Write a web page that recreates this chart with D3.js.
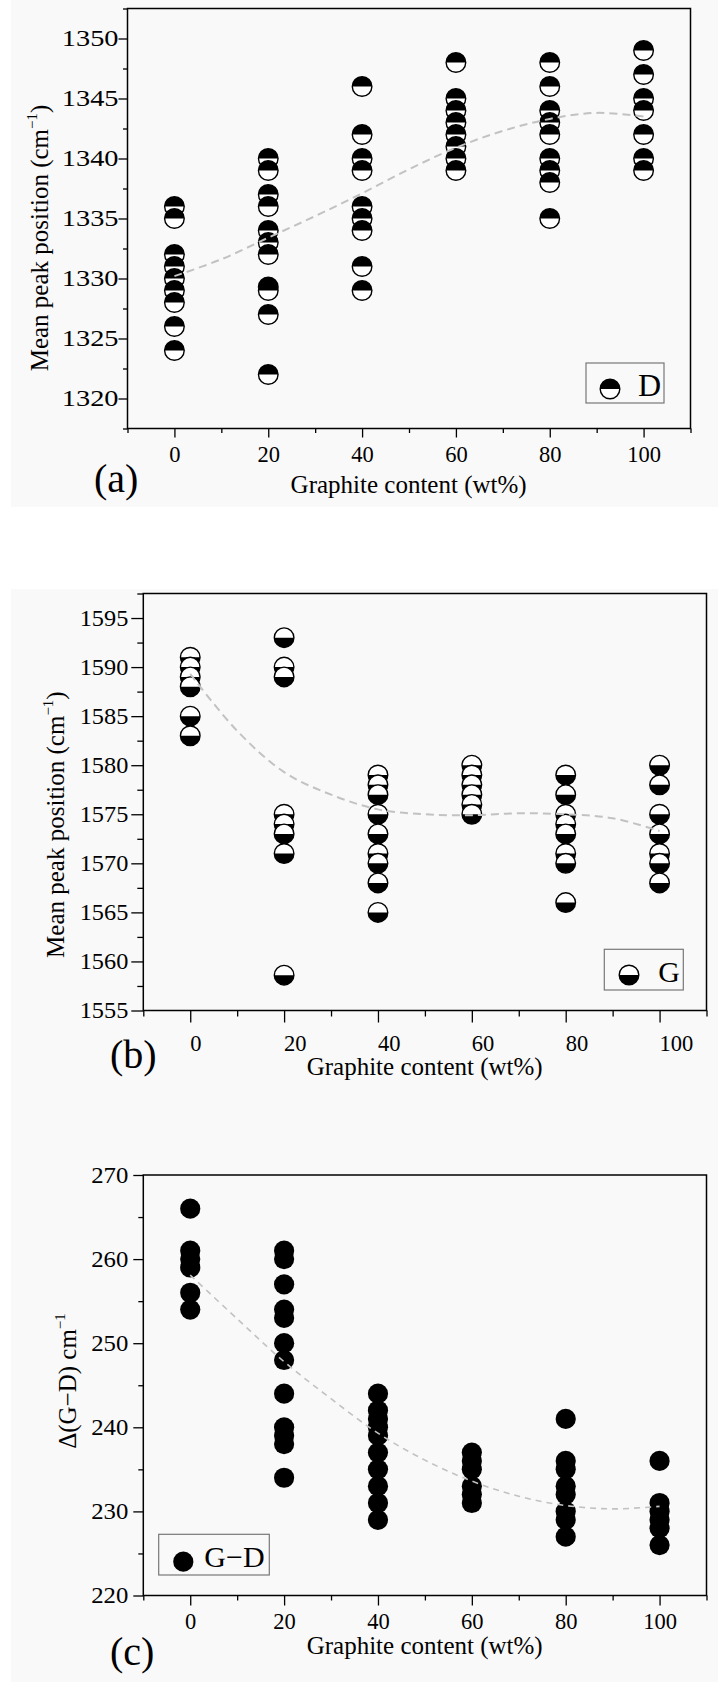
<!DOCTYPE html>
<html><head><meta charset="utf-8">
<script src="https://cdn.jsdelivr.net/npm/d3@7"></script>
<style>
body{margin:0;background:#fff}
svg{display:block}
svg text{font-family:'Liberation Serif','Times New Roman',Times,'DejaVu Serif',serif;fill:#000}
</style>
</head><body>
<svg id="chart" width="718" height="1682"></svg>
<script>
// ---------- data ----------
const xCats = [0, 20, 40, 60, 80, 100];
const xTicks = [0, 20, 40, 60, 80, 100];

// (a) D band mean peak position, per graphite content
const dPeak = [
  [1336, 1335, 1332, 1331, 1330, 1329, 1328, 1326, 1324],
  [1340, 1339, 1337, 1336, 1334, 1333, 1332, 1329.3, 1329, 1327, 1322],
  [1346, 1342, 1340, 1339, 1336, 1335, 1334, 1331, 1329],
  [1348, 1345, 1344, 1343, 1342, 1341, 1340, 1339],
  [1348, 1346, 1344, 1343, 1342, 1340, 1339, 1338, 1335],
  [1349, 1347, 1345, 1344, 1342, 1340, 1339]
];
// (b) G band mean peak position
const gPeak = [
  [1591, 1590, 1589, 1588, 1585, 1583],
  [1593, 1590, 1589, 1575, 1574, 1573, 1571, 1558.6],
  [1579, 1578, 1577, 1575, 1573, 1571, 1570, 1568, 1565],
  [1580, 1579, 1578, 1577, 1576, 1575],
  [1579, 1577, 1575, 1574, 1573, 1571, 1570, 1566],
  [1580, 1578, 1575, 1573, 1571, 1570, 1568]
];
// (c) G-D difference
const gdDiff = [
  [266, 261, 260, 259, 256, 254],
  [261, 260, 257, 254, 253, 250, 248, 244, 240, 239, 238, 234],
  [244, 242, 241, 240, 239, 237, 235, 233, 231, 229],
  [237, 236, 235, 233, 232, 231],
  [241, 236, 235, 233, 232, 230, 229, 227],
  [236, 231, 230, 229, 228, 226]
];

// dashed trend curves
const trendX  = [0, 10, 20, 30, 40, 50, 60, 70, 80, 90, 100];
const dTrend  = [1330.2, 1331.6, 1333.4, 1335.2, 1337.1, 1339.1, 1340.9, 1342.3, 1343.3, 1343.8, 1343.5];
const gTrend  = [1589.3, 1583.5, 1579.3, 1577.0, 1575.5, 1575.0, 1574.9, 1575.1, 1575.0, 1574.6, 1573.3];
const gdTrend = [258.1, 252.9, 247.8, 243.4, 239.3, 236.1, 233.6, 231.8, 230.7, 230.3, 230.6];

// tick labels
const dTicks  = [1320, 1325, 1330, 1335, 1340, 1345, 1350];
const gTicks  = [1555, 1560, 1565, 1570, 1575, 1580, 1585, 1590, 1595];
const gdTicks = [220, 230, 240, 250, 260, 270];

const xTitle = "Graphite content (wt%)";

// ---------- drawing ----------
const svg = d3.select("#chart");
const FONT = "'Liberation Serif','Times New Roman',Times,'DejaVu Serif',serif";

svg.append("rect").attr("x", 11).attr("y", 0).attr("width", 707).attr("height", 507).attr("fill", "#f9f9f9");
svg.append("rect").attr("x", 11).attr("y", 589).attr("width", 707).attr("height", 1093).attr("fill", "#f9f9f9");

const panels = [
  {
    data: dPeak, trend: dTrend, ticks: dTicks, yDom: [1317.5, 1352.5], minorStep: 2.5,
    l: 127.5, r: 690.5, t: 8.5, b: 428.5,
    major: 9, minor: 4.5, yLabX: -9, yStretch: 1.26, xLabOff: 33.5, xAnchor: "middle",
    marker: "topBlack", dash: "8,5", dashW: 2,
    yTitle: {x: 48, y: 238, main: "Mean peak position (cm", sup: "\u22121", tail: ")"},
    xTitleY: 493, xTitleX: 408.6, tag: "(a)", tagX: 94, tagY: 492,
    legend: {bx: 586, by: 363, bw: 78, bh: 40, mx: 610, my: 389, tx: 638, ty: 396, fs: 32, label: "D"}
  },
  {
    data: gPeak, trend: gTrend, ticks: gTicks, yDom: [1555, 1597.5], minorStep: 2.5,
    l: 143.3, r: 706.5, t: 593.5, b: 1010.5,
    major: 12, minor: 6, yLabX: -15, yStretch: 1.08, xLabOff: 40.5, xAnchor: "start",
    marker: "bottomBlack", dash: "8,5", dashW: 2,
    yTitle: {x: 64, y: 824.6, main: "Mean peak position (cm", sup: "\u22121", tail: ")"},
    xTitleY: 1075, xTitleX: 424.7, tag: "(b)", tagX: 110, tagY: 1068,
    legend: {bx: 604.3, by: 949.3, bw: 79, bh: 40.7, mx: 629, my: 975, tx: 658.3, ty: 981.7, fs: 30, label: "G"}
  },
  {
    data: gdDiff, trend: gdTrend, ticks: gdTicks, yDom: [220, 270], minorStep: 5,
    l: 143.3, r: 706.5, t: 1175, b: 1595.5,
    major: 10, minor: 5, yLabX: -15, yStretch: 1.1, xLabOff: 33, xAnchor: "middle",
    marker: "full", dash: "6,5", dashW: 1.6,
    yTitle: {x: 76, y: 1381, main: "\u0394(G\u2212D) cm", sup: "\u22121", tail: ""},
    xTitleY: 1654, xTitleX: 424.7, tag: "(c)", tagX: 110, tagY: 1665,
    legend: {bx: 158.7, by: 1534.3, bw: 110.6, bh: 40.7, mx: 183.3, my: 1561.7, tx: 204.3, ty: 1566.7, fs: 30, label: "G\u2212D"}
  }
];

function drawMarker(g, cx, cy, r, kind) {
  if (kind === "full") {
    g.append("circle").attr("cx", cx).attr("cy", cy).attr("r", r + 0.3).attr("fill", "#000");
    return;
  }
  g.append("circle").attr("cx", cx).attr("cy", cy).attr("r", r).attr("fill", "#fff");
  const sweep = kind === "topBlack" ? 1 : 0;
  g.append("path")
    .attr("d", `M${cx - r},${cy} A${r},${r} 0 0 ${sweep} ${cx + r},${cy} Z`)
    .attr("fill", "#000");
  g.append("circle").attr("cx", cx).attr("cy", cy).attr("r", r)
    .attr("fill", "none").attr("stroke", "#000").attr("stroke-width", 1.4);
}

panels.forEach(p => {
  const x = d3.scaleLinear().domain([-10, 110]).range([p.l, p.r]);
  const y = d3.scaleLinear().domain(p.yDom).range([p.b, p.t]);
  const g = svg.append("g");

  // x minor ticks
  const xMinor = d3.range(-10, 111, 20);
  g.append("g").attr("transform", `translate(0,${p.b})`)
    .call(d3.axisBottom(x).tickValues(xMinor).tickSize(p.minor).tickFormat(""))
    .call(s => s.select(".domain").remove())
    .selectAll("line").attr("stroke-width", 1.3);
  // x major
  const ax = g.append("g").attr("transform", `translate(0,${p.b})`)
    .call(d3.axisBottom(x).tickValues(xTicks).tickSize(p.major).tickFormat(d3.format("d")));
  ax.attr("font-family", FONT);
  ax.select(".domain").remove();
  ax.selectAll("line").attr("stroke-width", 1.3);
  ax.selectAll("text").attr("y", p.xLabOff).attr("dy", 0)
    .attr("font-family", FONT).attr("font-size", 22.5)
    .attr("text-anchor", p.xAnchor).attr("x", p.xAnchor === "start" ? -0.5 : 0);

  // y minor ticks
  const yMinor = d3.range(p.yDom[0], p.yDom[1] + 0.001, p.minorStep).filter(v => !p.ticks.some(t => Math.abs(t - v) < 1e-6));
  g.append("g").attr("transform", `translate(${p.l},0)`)
    .call(d3.axisLeft(y).tickValues(yMinor).tickSize(p.minor).tickFormat(""))
    .call(s => s.select(".domain").remove())
    .selectAll("line").attr("stroke-width", 1.3);
  // y major
  const ay = g.append("g").attr("transform", `translate(${p.l},0)`)
    .call(d3.axisLeft(y).tickValues(p.ticks).tickSize(p.major).tickFormat(d3.format("d")));
  ay.attr("font-family", FONT);
  ay.select(".domain").remove();
  ay.selectAll("line").attr("stroke-width", 1.3);
  ay.selectAll("text").attr("x", p.yLabX).attr("font-family", FONT).attr("font-size", 22.5)
    .each(function () {
      const w = this.getComputedTextLength();
      d3.select(this).attr("textLength", w * p.yStretch).attr("lengthAdjust", "spacingAndGlyphs");
    });

  // markers
  const mg = g.append("g");
  p.data.forEach((vals, i) => {
    vals.forEach(v => drawMarker(mg, x(xCats[i]), y(v), 9.8, p.marker));
  });

  // trend line
  const line = d3.line().x((d, i) => x(trendX[i])).y(d => y(d)).curve(d3.curveCatmullRom);
  g.append("path").datum(p.trend).attr("d", line)
    .attr("fill", "none").attr("stroke", "#c2c2c2").attr("stroke-width", p.dashW)
    .attr("stroke-dasharray", p.dash);

  // frame
  g.append("rect").attr("x", p.l).attr("y", p.t).attr("width", p.r - p.l).attr("height", p.b - p.t)
    .attr("fill", "none").attr("stroke", "#000").attr("stroke-width", 1.5);

  // legend
  const L = p.legend;
  g.append("rect").attr("x", L.bx).attr("y", L.by).attr("width", L.bw).attr("height", L.bh)
    .attr("fill", "none").attr("stroke", "#777").attr("stroke-width", 1.2);
  drawMarker(g, L.mx, L.my, 9.8, p.marker);
  g.append("text").attr("x", L.tx).attr("y", L.ty).attr("font-family", FONT).attr("font-size", L.fs).text(L.label);

  // y title
  const yt = g.append("text").attr("transform", `translate(${p.yTitle.x},${p.yTitle.y}) rotate(-90)`)
    .attr("text-anchor", "middle").attr("font-family", FONT).attr("font-size", 25);
  yt.append("tspan").text(p.yTitle.main);
  yt.append("tspan").attr("font-size", 15).attr("dy", -11).text(p.yTitle.sup);
  if (p.yTitle.tail) yt.append("tspan").attr("dy", 11).text(p.yTitle.tail);

  // x title
  g.append("text").attr("x", p.xTitleX).attr("y", p.xTitleY).attr("text-anchor", "middle")
    .attr("font-family", FONT).attr("font-size", 25).text(xTitle);
  // panel tag
  g.append("text").attr("x", p.tagX).attr("y", p.tagY).attr("font-family", FONT).attr("font-size", 40).text(p.tag);
});
</script>
</body></html>
